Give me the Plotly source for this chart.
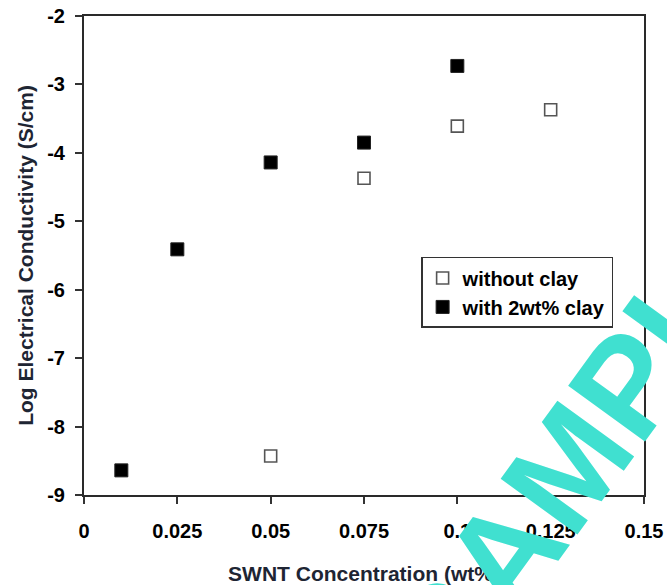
import plotly.graph_objects as go

# SWNT loading (wt%) and log conductivity (S/cm)
swnt_no_clay = [0.05, 0.075, 0.1, 0.125]
logcond_no_clay = [-8.43, -4.37, -3.61, -3.37]

swnt_clay = [0.01, 0.025, 0.05, 0.075, 0.1]
logcond_clay = [-8.64, -5.41, -4.14, -3.85, -2.73]

x_ticks = [0, 0.025, 0.05, 0.075, 0.1, 0.125, 0.15]
x_tick_text = ["0", "0.025", "0.05", "0.075", "0.1", "0.125", "0.15"]
y_ticks = [-9, -8, -7, -6, -5, -4, -3, -2]
y_tick_text = ["-9", "-8", "-7", "-6", "-5", "-4", "-3", "-2"]

FONT = "Arial, Liberation Sans, sans-serif"

fig = go.Figure()
fig.add_trace(go.Scatter(
    x=swnt_no_clay, y=logcond_no_clay, mode="markers", name="without clay",
    marker=dict(symbol="square", size=12, color="white",
                line=dict(color="#555555", width=1.6)),
))
fig.add_trace(go.Scatter(
    x=swnt_clay, y=logcond_clay, mode="markers", name="with 2wt% clay",
    marker=dict(symbol="square", size=13, color="black",
                line=dict(color="#222222", width=1)),
))

axis_common = dict(
    showgrid=False, zeroline=False, showline=True, mirror=True,
    linecolor="#2a2a2a", linewidth=2, automargin=False,
    ticks="outside", ticklen=7, tickwidth=1.5, tickcolor="#333333",
    tickfont=dict(family=FONT, size=20, color="black", weight="bold"),
)

fig.update_xaxes(
    range=[0, 0.15], tickmode="array", tickvals=x_ticks, ticktext=x_tick_text,
    ticklabelstandoff=10,
    title=dict(text="SWNT Concentration (wt%)", standoff=26,
               font=dict(family=FONT, size=21, color="#1e2533", weight="bold")),
    **axis_common,
)
fig.update_yaxes(
    range=[-9, -2], tickmode="array", tickvals=y_ticks, ticktext=y_tick_text,
    ticklabelstandoff=6,
    title=dict(text="Log Electrical Conductivity (S/cm)", standoff=8,
               font=dict(family=FONT, size=21, color="#1e2533", weight="bold")),
    **axis_common,
)

# diagonal watermark drawn over the plot
fig.add_annotation(
    text="SAMPLE", xref="paper", yref="paper", x=0.903, y=0.123,
    xanchor="center", yanchor="middle",
    showarrow=False, textangle=-54,
    font=dict(family=FONT, size=138, color="#40E0D0", weight="bold"),
)

fig.update_layout(
    width=667, height=585,
    margin=dict(l=83.5, r=22.5, t=16, b=90, autoexpand=False),
    paper_bgcolor="white", plot_bgcolor="white",
    showlegend=True,
    legend=dict(
        x=0.602, y=0.497, xanchor="left", yanchor="top",
        bgcolor="white", bordercolor="#333333", borderwidth=1.5,
        font=dict(family=FONT, size=20, color="black", weight="bold"),
        itemwidth=30, tracegroupgap=0,
    ),
)

fig.write_html("out.html")
